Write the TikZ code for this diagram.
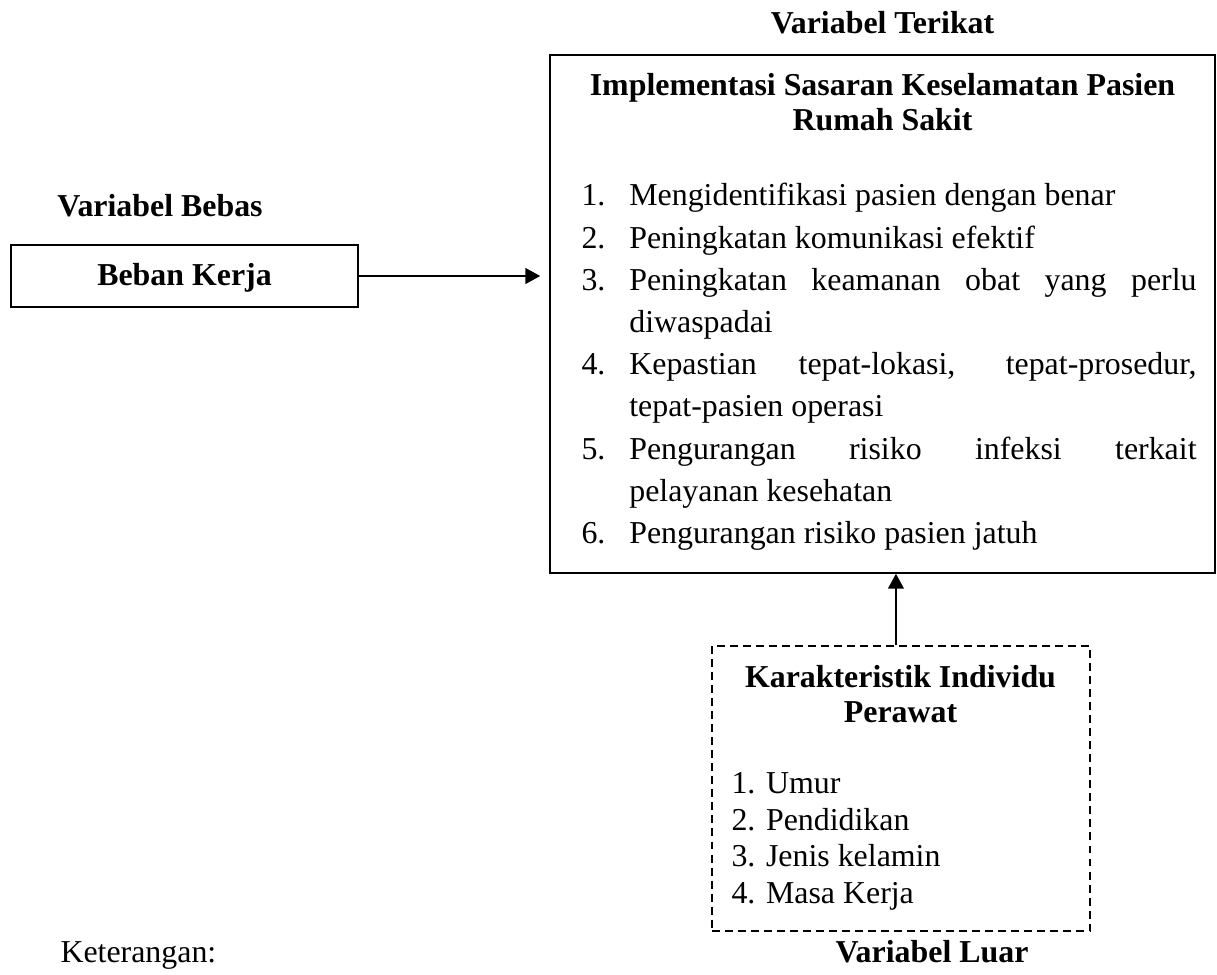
\documentclass[tikz,border=0pt]{standalone}
\usepackage{fontspec}
\setmainfont{Liberation Serif}
\usetikzlibrary{arrows.meta}
\newcommand{\lstitem}[2]{\hangindent=18pt\hangafter=1\noindent\makebox[18pt][l]{#1}#2\par}
\begin{document}
\begin{tikzpicture}[x=0.3764pt,y=-0.3764pt,
  every node/.style={inner sep=0pt, font=\fontsize{12pt}{13.8pt}\selectfont},
  boxline/.style={draw, line width=0.6pt},
  arr/.style={line width=0.6pt, -{Triangle[length=5.6pt,width=6pt]}},
  hd/.style={font=\fontsize{12pt}{13.2pt}\selectfont\bfseries},
  dashbox/.style={draw, line width=0.6pt, dash pattern=on 3pt off 1.9pt}]
\useasboundingbox (0,0) rectangle (1217,974);

% boxes
\node[boxline, minimum width=130.6pt, minimum height=23.3pt] (bk) at (184.5,276) {};
\node[boxline, minimum width=250.3pt, minimum height=195pt] (tgt) at (882.5,314) {};
\node[dashbox, minimum width=142.3pt, minimum height=107.3pt] (ind) at (901,788.5) {};

% headings
\node[hd, anchor=base] (vb) at (160,216) {Variabel Bebas};
\node[hd, anchor=base] (vt) at (882.5,33) {Variabel Terikat};
\node[hd, anchor=base] (vl) at (932,962) {Variabel Luar};
\node[anchor=base west] (ket) at (60,962) {Keterangan:};

% box contents
\node[hd, anchor=base] (bkt) at (184.5,285) {Beban Kerja};
\node[hd, anchor=north, align=center] (tgtt) at (882.5,73) {Implementasi Sasaran Keselamatan Pasien\\Rumah Sakit};
\node[anchor=north west, text width=231.5pt, align=justify,
      font=\fontsize{12pt}{15.88pt}\selectfont] (lst) at (581,183) {%
\tolerance=9999 \hyphenpenalty=10000
\lstitem{1.}{Mengidentifikasi pasien dengan benar}
\lstitem{2.}{Peningkatan komunikasi efektif}
\lstitem{3.}{Peningkatan keamanan obat yang perlu\linebreak diwaspadai}
\lstitem{4.}{Kepastian tepat-lokasi, tepat-prosedur,\linebreak tepat-pasien operasi}
\lstitem{5.}{Pengurangan risiko infeksi terkait\linebreak pelayanan kesehatan}
\lstitem{6.}{Pengurangan risiko pasien jatuh}};

\node[hd, anchor=north, align=center] (indt) at (900.5,665) {Karakteristik Individu\\Perawat};
\node[anchor=north west, align=left, font=\fontsize{12pt}{13.8pt}\selectfont] (indl) at (731,772) {1. Umur\\2. Pendidikan\\3. Jenis kelamin\\4. Masa Kerja};

% connectors
\draw[arr, shorten >=3.4pt] (bk.east) -- (tgt.west |- bk.east);
\draw[arr] ([xshift=-1.9pt]ind.north) -- ([xshift=-1.9pt]ind.north |- tgt.south);
\end{tikzpicture}
\end{document}
